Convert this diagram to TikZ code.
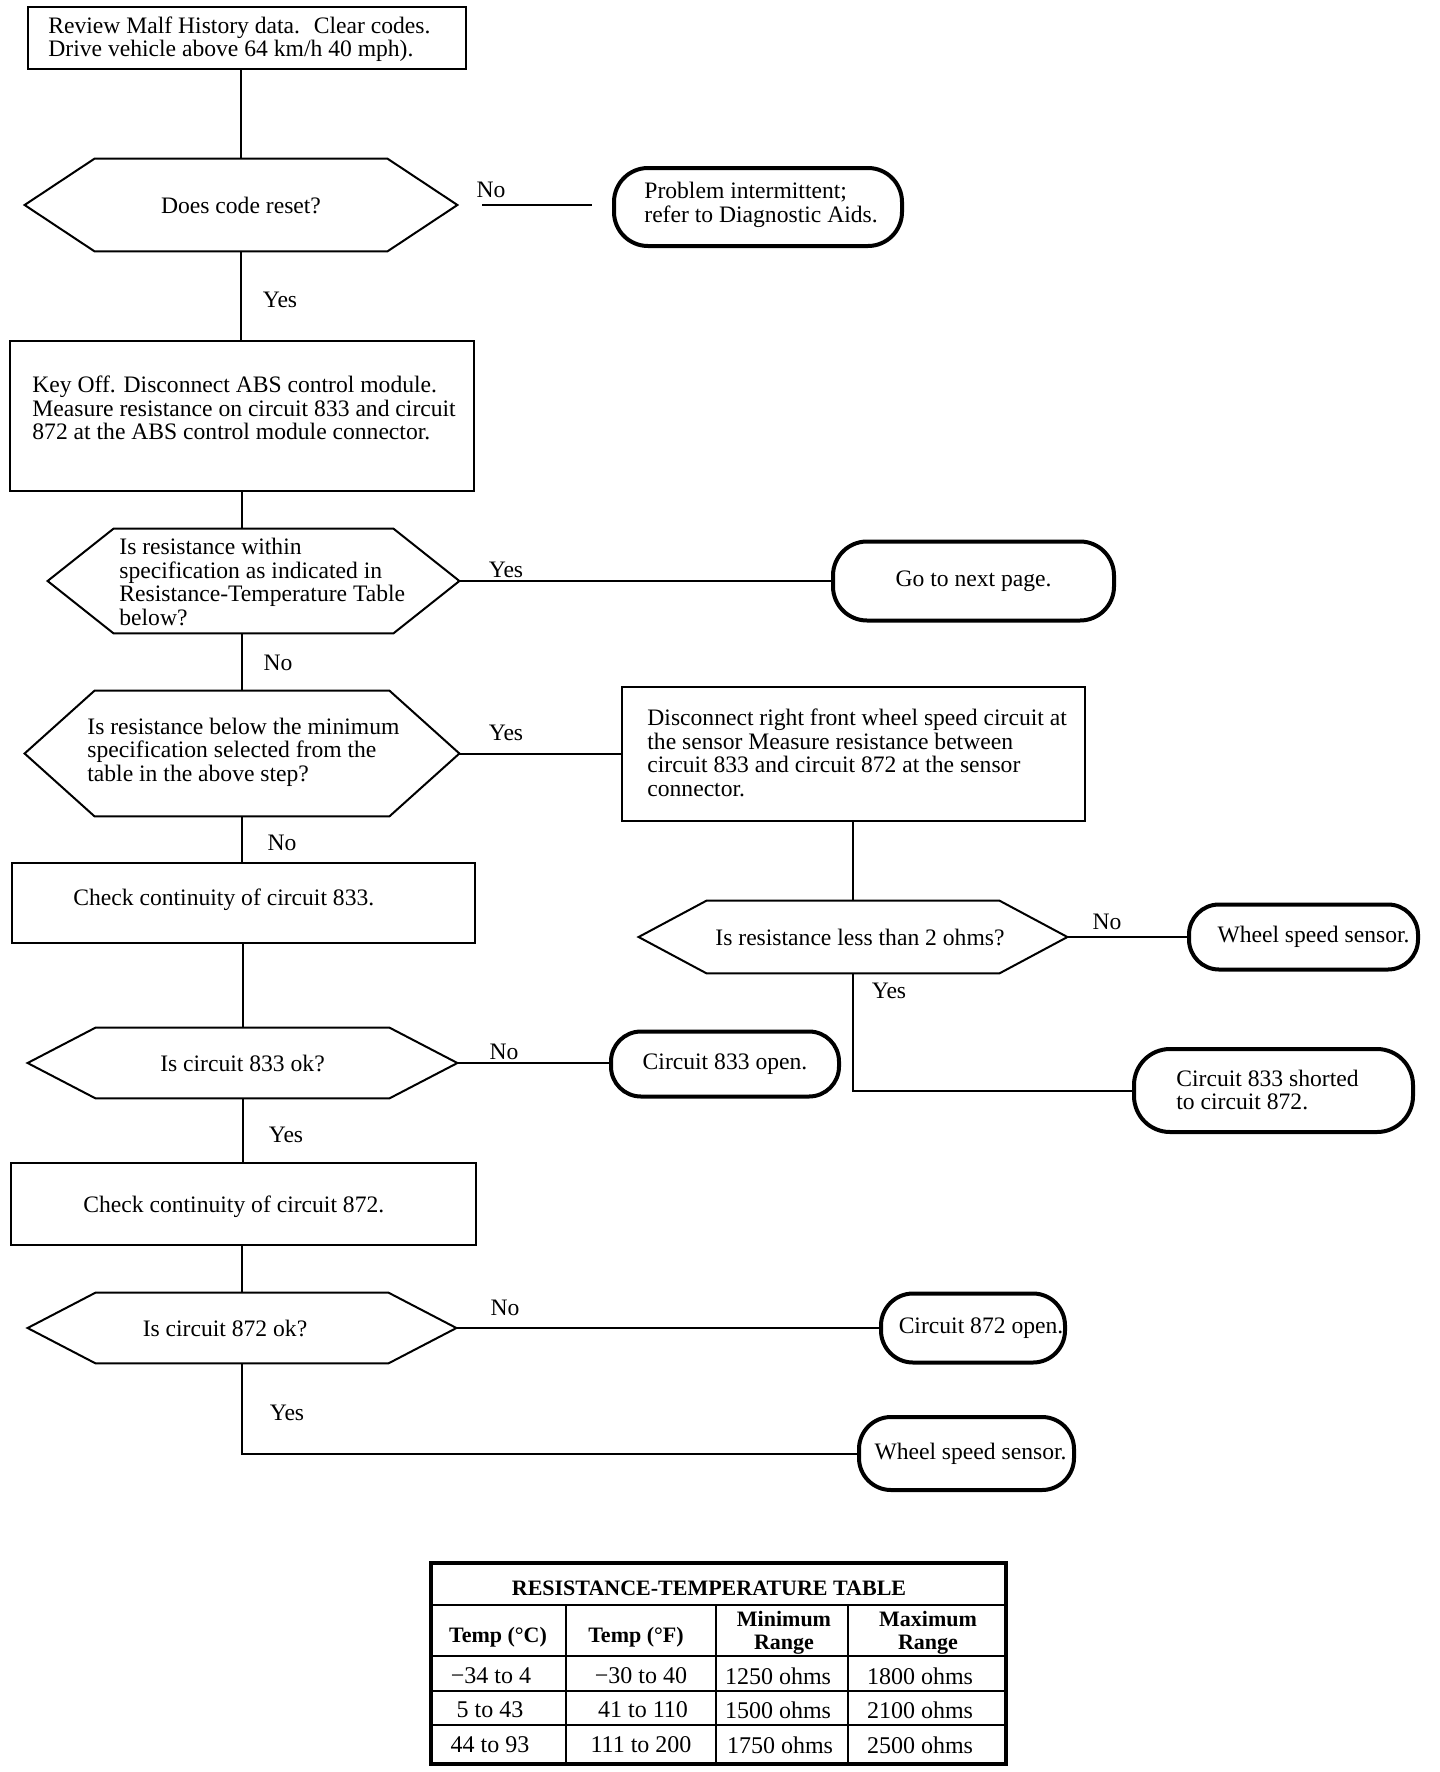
\documentclass[tikz,border=0pt]{standalone}
\usepackage{fontspec}
\setmainfont{Liberation Serif}
\usetikzlibrary{calc}
\newcommand{\hexdraw}[2]{%
  \draw[hexline] (#1.west) -- ([xshift=#2]#1.north west) -- ([xshift=-#2]#1.north east) -- (#1.east) -- ([xshift=-#2]#1.south east) -- ([xshift=#2]#1.south west) -- cycle;}
\begin{document}
\begin{tikzpicture}[x=0.5pt,y=-0.5pt,
  font=\fontsize{11.8}{11.75}\selectfont,
  box/.style={draw, line width=1.2pt, rectangle, inner sep=0pt},
  hexnode/.style={rectangle, inner sep=0pt},
  hexline/.style={line width=1pt, line join=miter},
  term/.style={draw, line width=2pt, rectangle, rounded corners=15pt, inner sep=0pt},
  txt/.style={inner sep=0pt, align=left, anchor=west},
  lbl/.style={inner sep=0pt},
  conn/.style={line width=1pt},
  faint/.style={line width=0.6pt},
  tblhead/.style={inner sep=0pt, align=center, font=\fontsize{11}{11.5}\selectfont\bfseries},
  tbltitle/.style={inner sep=0pt, font=\fontsize{11}{12}\selectfont\bfseries},
  tblcell/.style={inner sep=0pt, font=\fontsize{12}{12}\selectfont}
]
\useasboundingbox[fill=white] (0,0) rectangle (1440,1772);

% ---- main column ----
\node[box, minimum width=219pt, minimum height=31pt] (b1) at (247,38) {};
\node[txt] (b1t) at (48,39) {Review Malf History data.~ Clear codes.\\Drive vehicle above 64 km/h 40 mph).};

\node[hexnode, minimum width=216pt, minimum height=46pt] (d1) at (241,205) {Does code reset?};
\hexdraw{d1}{35pt}

\node[term, rounded corners=17pt, minimum width=144pt, minimum height=39pt] (t1) at (758,207) {};
\node[txt] (t1t) at (644,205) {Problem intermittent;\\refer to Diagnostic Aids.};

\node[box, minimum width=232pt, minimum height=75pt] (b2) at (242,416) {};
\node[txt] (b2t) at (32,408) {Key Off. Disconnect ABS control module.\\Measure resistance on circuit 833 and circuit\\872 at the ABS control module connector.};

\node[hexnode, minimum width=205.5pt, minimum height=52pt] (d2) at (253.5,581) {};
\hexdraw{d2}{33pt}
\node[txt] (d2t) at (119,582) {Is resistance within\\specification as indicated in\\Resistance-Temperature Table\\below?};

\node[term, rounded corners=17pt, minimum width=140.5pt, minimum height=39.5pt] (t2) at (973.5,581) {Go to next page.};

\node[hexnode, minimum width=217pt, minimum height=62.5pt] (d3) at (242,753.5) {};
\hexdraw{d3}{35pt}
\node[txt] (d3t) at (87,752) {Is resistance below the minimum\\specification selected from the\\table in the above step?};

\node[box, minimum width=231.5pt, minimum height=67pt] (b3) at (853.5,754) {};
\node[txt] (b3t) at (647,753) {Disconnect right front wheel speed circuit at\\the sensor Measure resistance between\\circuit 833 and circuit 872 at the sensor\\connector.};

\node[box, minimum width=231.5pt, minimum height=40pt] (b4) at (243.5,903) {};
\node[txt] (b4t) at (73,900) {Check continuity of circuit 833.};

\node[hexnode, minimum width=214pt, minimum height=36pt] (d6) at (853,937) {\hspace*{7pt}Is resistance less than 2 ohms?};
\hexdraw{d6}{34pt}

\node[term, rounded corners=15pt, minimum width=114.5pt, minimum height=32.5pt] (t3) at (1303.5,937) {\hspace*{10pt}Wheel speed sensor.};

\node[hexnode, minimum width=214.5pt, minimum height=35pt] (d4) at (242.5,1063) {Is circuit 833 ok?};
\hexdraw{d4}{34pt}

\node[term, rounded corners=15pt, minimum width=114pt, minimum height=32.5pt] (t4) at (725,1064) {Circuit 833 open.};

\node[term, rounded corners=18pt, minimum width=139.5pt, minimum height=41.5pt] (t5) at (1273.5,1090.5) {};
\node[txt] (t5t) at (1176,1090) {Circuit 833 shorted\\to circuit 872.};

\node[box, minimum width=232.5pt, minimum height=41pt] (b5) at (243.5,1204) {};
\node[txt] (b5t) at (83,1207) {Check continuity of circuit 872.};

\node[hexnode, minimum width=214pt, minimum height=35pt] (d5) at (242,1328) {};
\hexdraw{d5}{34pt}
\node[lbl] (d5t) at (225,1328) {Is circuit 872 ok?};

\node[term, rounded corners=16pt, minimum width=92pt, minimum height=34.5pt] (t6) at (973,1328) {\hspace*{8pt}Circuit 872 open.};
\node[term, rounded corners=16pt, minimum width=107.5pt, minimum height=36.5pt] (t7) at (966.5,1453.5) {\hspace*{4pt}Wheel speed sensor.};

% ---- connectors ----
\draw[conn] (d1.north |- b1.south) -- (d1.north);
\draw[faint] ([xshift=12.5pt]d1.east) -- ([xshift=-10pt]d1.east -| t1.west);
\draw[conn] (d1.south) -- (d1.south |- b2.north);
\draw[conn] (b2.south) -- (b2.south |- d2.north);
\draw[conn] (d2.east) -- (t2.west);
\draw[conn] (d3.north |- d2.south) -- (d3.north);
\draw[conn] (d3.east) -- (d3.east -| b3.west);
\draw[conn] (d3.south) -- (d3.south |- b4.north);
\draw[conn] (d4.north |- b4.south) -- (d4.north);
\draw[conn] (d4.east) -- (d4.east -| t4.west);
\draw[conn] (d4.south) -- (d4.south |- b5.north);
\draw[conn] (d5.north |- b5.south) -- (d5.north);
\draw[conn] (d5.east) -- (t6.west);
\draw[conn] (d5.south) |- (t7.west);
\draw[conn] (d6.north |- b3.south) -- (d6.north);
\draw[conn] (d6.east) -- (t3.west);
\draw[conn] (d6.south) |- (t5.west);

% ---- labels ----
\node[lbl] (l1) at (491,190) {No};
\node[lbl] (l2) at (280,300) {Yes};
\node[lbl] (l3) at (506,570) {Yes};
\node[lbl] (l4) at (278,663) {No};
\node[lbl] (l5) at (506,733) {Yes};
\node[lbl] (l6) at (282,843) {No};
\node[lbl] (l7) at (504,1052) {No};
\node[lbl] (l8) at (286,1135) {Yes};
\node[lbl] (l9) at (505,1308) {No};
\node[lbl] (l10) at (287,1413) {Yes};
\node[lbl] (l11) at (1107,922) {No};
\node[lbl] (l12) at (889,991) {Yes};

% ---- table ----
\draw[line width=1.8pt] (431,1563) rectangle (1006,1764);
\draw[line width=1.3pt] (431,1605) -- (1006,1605);
\draw[line width=1.3pt] (431,1656) -- (1006,1656);
\draw[line width=1.3pt] (431,1691) -- (1006,1691);
\draw[line width=1.3pt] (431,1725) -- (1006,1725);
\draw[line width=1.3pt] (566,1605) -- (566,1764);
\draw[line width=1.3pt] (716,1605) -- (716,1764);
\draw[line width=1.3pt] (848,1605) -- (848,1764);
\node[tbltitle] (tt) at (709,1588) {RESISTANCE-TEMPERATURE TABLE};
\node[tblhead] (h1) at (498,1637) {Temp (°C)};
\node[tblhead] (h2) at (636,1637) {Temp (°F)};
\node[tblhead] (h3) at (784,1633) {Minimum\\Range};
\node[tblhead] (h4) at (928,1633) {Maximum\\Range};
\node[tblcell] (c11) at (491,1676) {−34 to 4};
\node[tblcell] (c12) at (641,1676) {−30 to 40};
\node[tblcell] (c13) at (778,1676) {1250 ohms};
\node[tblcell] (c14) at (920,1676) {1800 ohms};
\node[tblcell] (c21) at (490,1710) {5 to 43};
\node[tblcell] (c22) at (643,1710) {41 to 110};
\node[tblcell] (c23) at (778,1710) {1500 ohms};
\node[tblcell] (c24) at (920,1710) {2100 ohms};
\node[tblcell] (c31) at (490,1745) {44 to 93};
\node[tblcell] (c32) at (641,1745) {111 to 200};
\node[tblcell] (c33) at (780,1745) {1750 ohms};
\node[tblcell] (c34) at (920,1745) {2500 ohms};
\end{tikzpicture}
\end{document}
